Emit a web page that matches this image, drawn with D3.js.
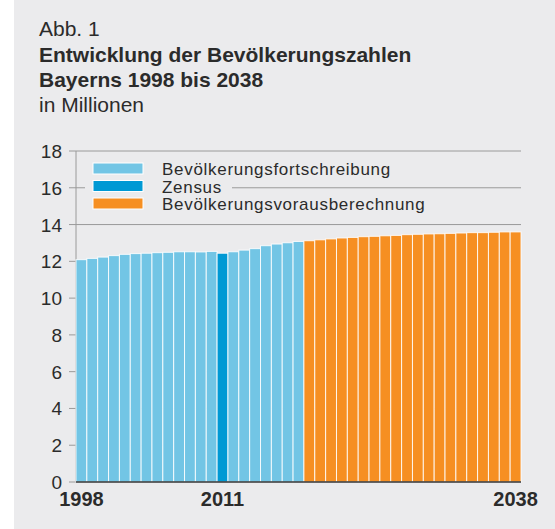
<!DOCTYPE html>
<html>
<head>
<meta charset="utf-8">
<script src="https://cdn.jsdelivr.net/npm/d3@7"></script>
<style>
  body { margin: 0; background: #fff; }
  text { font-family: "Liberation Sans", Arial, sans-serif; fill: #2b2b2b; }
</style>
</head>
<body>
<svg width="555" height="529"></svg>
<script>
// years shown on the x axis
const years = d3.range(1998, 2039);

// population in millions
const population = [
  12.09, 12.16, 12.23, 12.31, 12.38, 12.42, 12.44, 12.47, 12.49, 12.52,
  12.52, 12.51, 12.54, 12.44, 12.52, 12.61, 12.69, 12.85, 12.94, 13.01,
  13.08, 13.12, 13.17, 13.22, 13.27, 13.30, 13.34, 13.36, 13.39, 13.41,
  13.45, 13.47, 13.49, 13.50, 13.52, 13.54, 13.56, 13.56, 13.58, 13.60,
  13.60
];

// series each year belongs to
const seriesOf = years.map(y => y === 2011 ? "zensus" : (y <= 2018 ? "fort" : "voraus"));

const legendItems = [
  {key: "fort", label: "Bevölkerungsfortschreibung"},
  {key: "zensus", label: "Zensus"},
  {key: "voraus", label: "Bevölkerungsvorausberechnung"}
];

const yTicks = [0, 2, 4, 6, 8, 10, 12, 14, 16, 18];
const yearLabels = [1998, 2011, 2038];

const colors = {fort: "#72c5e5", zensus: "#0099d4", voraus: "#f68f22"};

const svg = d3.select("svg");

// grey panel
svg.append("rect")
   .attr("x", 14).attr("y", 0)
   .attr("width", 541).attr("height", 529)
   .attr("fill", "#ebebed");

// title block
const title = [
  {text: "Abb. 1", weight: "normal", y: 36},
  {text: "Entwicklung der Bevölkerungszahlen", weight: "bold", y: 62},
  {text: "Bayerns 1998 bis 2038", weight: "bold", y: 87},
  {text: "in Millionen", weight: "normal", y: 112}
];
svg.selectAll("text.title")
   .data(title)
   .enter()
   .append("text")
   .attr("class", "title")
   .attr("x", 39)
   .attr("y", d => d.y)
   .attr("font-size", 21)
   .attr("font-weight", d => d.weight)
   .text(d => d.text);

// chart area
const plotLeft = 76, plotRight = 521, plotTop = 151, plotBottom = 482;

const x = d3.scaleBand()
            .domain(years)
            .range([plotLeft, plotRight])
            .padding(0);

const y = d3.scaleLinear()
            .domain([0, 18])
            .range([plotBottom, plotTop]);

// gridlines with tick stubs (they run behind the bars)
svg.append("g")
   .selectAll("line")
   .data(yTicks.filter(t => t > 0))
   .enter()
   .append("line")
   .attr("x1", 69).attr("x2", plotRight)
   .attr("y1", d => y(d)).attr("y2", d => y(d))
   .attr("stroke", "#9a9a9a")
   .attr("stroke-width", 1);

// y axis line
svg.append("line")
   .attr("x1", plotLeft).attr("x2", plotLeft)
   .attr("y1", plotTop).attr("y2", plotBottom)
   .attr("stroke", "#9a9a9a")
   .attr("stroke-width", 1);

// zero tick stub
svg.append("line")
   .attr("x1", 69).attr("x2", plotLeft)
   .attr("y1", y(0)).attr("y2", y(0))
   .attr("stroke", "#9a9a9a");

// y tick labels
svg.append("g")
   .selectAll("text")
   .data(yTicks)
   .enter()
   .append("text")
   .attr("x", 62)
   .attr("y", d => y(d) + 7)
   .attr("text-anchor", "end")
   .attr("font-size", 19)
   .text(d => d);

// bars
svg.append("g")
   .selectAll("rect")
   .data(years)
   .enter()
   .append("rect")
   .attr("x", d => x(d))
   .attr("y", (d, i) => y(population[i]))
   .attr("width", x.bandwidth())
   .attr("height", (d, i) => y(0) - y(population[i]))
   .attr("fill", (d, i) => colors[seriesOf[i]])
   .attr("stroke", "#ffffff")
   .attr("stroke-opacity", 0.85)
   .attr("stroke-width", 1);

// baseline
svg.append("line")
   .attr("x1", plotLeft).attr("x2", plotRight)
   .attr("y1", y(0)).attr("y2", y(0))
   .attr("stroke", "#333")
   .attr("stroke-width", 1.5);

// year labels
svg.append("g")
   .selectAll("text")
   .data(yearLabels)
   .enter()
   .append("text")
   .attr("x", d => x(d) + x.bandwidth() / 2)
   .attr("y", 506)
   .attr("text-anchor", "middle")
   .attr("font-size", 20)
   .attr("font-weight", "bold")
   .text(d => d);

// legend (background hides the gridline behind it)
svg.append("rect")
   .attr("x", 85).attr("y", 180)
   .attr("width", 147).attr("height", 14)
   .attr("fill", "#ebebed");

const legend = svg.append("g")
   .selectAll("g")
   .data(legendItems)
   .enter()
   .append("g")
   .attr("transform", (d, i) => `translate(93,${163 + i * 17.5})`);

legend.append("rect")
      .attr("width", 50).attr("height", 11)
      .attr("fill", d => colors[d.key])
      .attr("stroke", "#fff")
      .attr("stroke-width", 1);

legend.append("text")
      .attr("x", 69)
      .attr("y", 12)
      .attr("font-size", 17)
      .attr("letter-spacing", 0.7)
      .text(d => d.label);
</script>
</body>
</html>
